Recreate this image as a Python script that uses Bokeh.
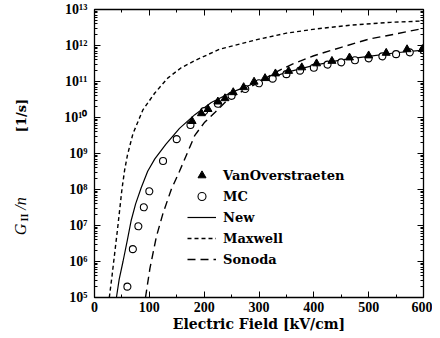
import numpy as np
from bokeh.plotting import figure
from bokeh.layouts import row
from bokeh.models import (Label, Legend, LegendItem, LogAxis, LinearAxis,
                          CustomJSTickFormatter, Range1d, LogTicker, BasicTicker)
from bokeh.embed import file_html
from bokeh.resources import INLINE

# ---------------- data ----------------
van_x = [178, 195, 207, 225, 238, 253, 272, 291, 311, 330, 354, 378, 405, 433,
         465, 500, 532, 570, 598]
van_g = [7.9e9, 1.3e10, 1.7e10, 2.75e10, 3.4e10, 5.0e10, 6.9e10, 9.8e10, 1.23e11,
         1.66e11, 1.95e11, 2.45e11, 3.16e11, 3.7e11, 4.6e11, 5.25e11, 6.2e11,
         7.8e11, 7.9e11]

mc_x = [60, 70, 80, 90, 100, 125, 150, 175, 200, 225, 250, 275, 300, 325, 350,
        375, 400, 425, 450, 475, 500, 525, 550, 575, 600]
mc_g = [2.0e5, 2.2e6, 9.5e6, 3.2e7, 8.9e7, 6.2e8, 2.5e9, 6.2e9, 1.5e10, 2.4e10,
        4.0e10, 6.2e10, 8.9e10, 1.2e11, 1.6e11, 2.0e11, 2.4e11, 2.95e11, 3.4e11,
        3.9e11, 4.4e11, 5.0e11, 5.75e11, 6.45e11, 7.4e11]

new_x = [40, 45, 52, 60, 67, 75, 85, 97, 110, 130, 155, 183, 213, 250, 300, 350,
         400, 450, 500, 550, 600]
new_g = [1e5, 3.2e5, 1e6, 4e6, 1.4e7, 4e7, 1.1e8, 3.2e8, 7.1e8, 1.8e9, 5e9, 1.2e10,
         2.6e10, 5e10, 1e11, 1.8e11, 2.8e11, 4e11, 5e11, 6.3e11, 7.4e11]

max_x = [27, 32, 37, 42, 46, 50, 55, 60, 70, 88, 110, 134, 158, 183, 228, 300, 350,
         405, 470, 540, 600]
max_g = [1e5, 4e5, 1.8e6, 7.9e6, 2.8e7, 1e8, 3.5e8, 8.9e8, 3.5e9, 1.6e10, 4.8e10,
         1.26e11, 2.4e11, 3.8e11, 7.9e11, 1.5e12, 2.2e12, 2.9e12, 3.7e12, 4.4e12, 4.8e12]

son_x = [93, 96, 101, 107, 113, 125, 140, 155, 170, 183, 200, 220, 240, 260, 300,
         330, 360, 400, 450, 500, 550, 600]
son_g = [1e5, 2e5, 6.3e5, 1.8e6, 5e6, 2.2e7, 1e8, 3.2e8, 1.1e9, 3.2e9, 7.1e9, 1.4e10,
         2.8e10, 4.5e10, 9.5e10, 1.8e11, 3e11, 5.2e11, 8.9e11, 1.5e12, 2.1e12, 3e12]

legend_labels = ["VanOverstraeten", "MC", "New", "Maxwell", "Sonoda"]
x_title = "Electric Field [kV/cm]"

TICK_FONT = "Liberation Serif"
TEXT_FONT = "DejaVu Serif"

H = 336
LW = 34  # width of the narrow strip carrying the y title

# --------------- narrow strip with the y-axis title ---------------
yt = figure(width=LW, height=H, x_range=Range1d(0, 1), y_range=Range1d(0, 1),
            output_backend="svg", toolbar_location=None,
            x_axis_location=None, y_axis_location=None,
            min_border=0, min_border_left=0, min_border_right=0,
            min_border_top=0, min_border_bottom=0)
yt.outline_line_color = None
yt.xgrid.visible = False
yt.ygrid.visible = False
ang = np.pi / 2
yt.add_layout(Label(x=20, y=68, x_units="screen", y_units="screen", text="G", angle=ang,
                    text_font="Liberation Serif", text_font_style="italic",
                    text_font_size="16px", text_align="center", text_baseline="middle",
                    text_color="black"))
yt.add_layout(Label(x=24, y=80, x_units="screen", y_units="screen", text="II", angle=ang,
                    text_font="Liberation Serif", text_font_style="bold",
                    text_font_size="10px", text_align="center", text_baseline="middle",
                    text_color="black"))
yt.add_layout(Label(x=20, y=94, x_units="screen", y_units="screen", text="/n", angle=ang,
                    text_font="Liberation Serif", text_font_style="italic",
                    text_font_size="16px", text_align="center", text_baseline="middle",
                    text_color="black"))
yt.add_layout(Label(x=21, y=182, x_units="screen", y_units="screen", text="[1/s]", angle=ang,
                    text_font=TEXT_FONT, text_font_style="bold",
                    text_font_size="13px", text_align="center", text_baseline="middle",
                    text_color="black"))

# --------------- main plot ---------------
p = figure(width=432 - LW, height=H, y_axis_type="log",
           x_range=Range1d(0, 600), y_range=Range1d(1e5, 1e13),
           output_backend="svg", toolbar_location=None,
           min_border_left=94 - LW, min_border_right=9, min_border_top=9,
           min_border_bottom=39)
p.background_fill_color = "white"
p.border_fill_color = "white"
p.outline_line_color = "black"
p.outline_line_width = 1.3
p.xgrid.visible = False
p.ygrid.visible = False

r_max = p.line(max_x, max_g, line_color="black", line_width=1.4, line_dash="4 3")
r_son = p.line(son_x, son_g, line_color="black", line_width=1.4, line_dash="8 5")
r_new = p.line(new_x, new_g, line_color="black", line_width=1.2)
r_mc = p.scatter(mc_x, mc_g, marker="circle", size=7, fill_color="white",
                 line_color="black", line_width=1.1)
r_van = p.scatter(van_x, van_g, marker="triangle", size=8, fill_color="black",
                  line_color="black")

sup = "{'0':'\u2070','1':'\u00b9','2':'\u00b2','3':'\u00b3','4':'\u2074','5':'\u2075','6':'\u2076','7':'\u2077','8':'\u2078','9':'\u2079'}"
fmt = CustomJSTickFormatter(code="""
const s = %s;
const e = Math.round(Math.log10(tick));
return '10' + String(e).split('').map(c => s[c]).join('');
""" % sup)

yax = p.yaxis[0]
yax.ticker = LogTicker(num_minor_ticks=10)
yax.formatter = fmt
xax = p.xaxis[0]
xax.ticker = BasicTicker(desired_num_ticks=7, num_minor_ticks=2)

for ax in (xax, yax):
    ax.major_tick_in = 6
    ax.major_tick_out = 0
    ax.minor_tick_in = 3
    ax.minor_tick_out = 0
    ax.axis_line_color = "black"
    ax.major_tick_line_color = "black"
    ax.minor_tick_line_color = "black"
    ax.major_label_text_font = TICK_FONT
    ax.major_label_text_font_size = "14px"
    ax.major_label_text_font_style = "bold"
    ax.major_label_text_color = "black"
xax.major_label_standoff = 4
yax.major_label_standoff = 7
xax.axis_label = x_title
xax.axis_label_text_font = TEXT_FONT
xax.axis_label_text_font_style = "bold"
xax.axis_label_text_font_size = "14px"
xax.axis_label_text_color = "black"
xax.axis_label_standoff = 1

rax = LogAxis(ticker=LogTicker(num_minor_ticks=10), major_label_text_color=None,
              major_label_text_font_size="2px",
              major_tick_in=6, major_tick_out=0, minor_tick_in=3, minor_tick_out=0,
              major_label_standoff=0)
tax = LinearAxis(ticker=BasicTicker(desired_num_ticks=7, num_minor_ticks=2),
                 major_label_text_color=None, major_label_text_font_size="2px",
                 major_tick_in=6, major_tick_out=0, minor_tick_in=3, minor_tick_out=0,
                 major_label_standoff=0)
p.add_layout(rax, "right")
p.add_layout(tax, "above")

legend = Legend(items=[LegendItem(label=legend_labels[0], renderers=[r_van]),
                       LegendItem(label=legend_labels[1], renderers=[r_mc]),
                       LegendItem(label=legend_labels[2], renderers=[r_new]),
                       LegendItem(label=legend_labels[3], renderers=[r_max]),
                       LegendItem(label=legend_labels[4], renderers=[r_son])],
                location=(93, 28), glyph_width=29, glyph_height=20, label_height=20,
                spacing=1, padding=0, margin=0, label_standoff=7,
                border_line_color=None, background_fill_alpha=0,
                label_text_font=TEXT_FONT, label_text_font_style="bold",
                label_text_font_size="13px", label_text_color="black")
p.add_layout(legend, "center")

layout = row(yt, p, spacing=0)
open("out.html", "w").write(file_html(layout, INLINE))
